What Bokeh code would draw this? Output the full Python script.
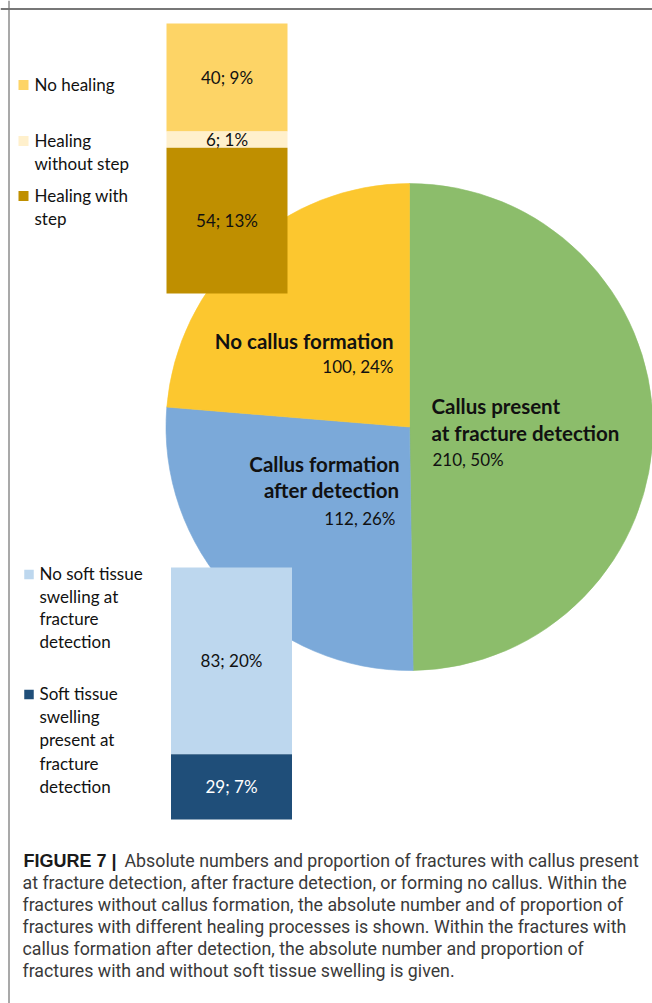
import numpy as np
from bokeh.plotting import figure
from bokeh.models import Range1d, Span, ColumnDataSource
from bokeh.core.properties import value
from bokeh.embed import file_html
from bokeh.resources import INLINE

# ---------------- data ----------------
main_cats = ["Callus present\nat fracture detection", "Callus formation\nafter detection", "No callus formation"]
main_counts = [210, 112, 100]
main_pcts = [50, 26, 24]
main_colors = ["#8CBD6B", "#7BA9D9", "#FCC72F"]

heal_cats = ["No healing", "Healing\nwithout step", "Healing with\nstep"]
heal_counts = [40, 6, 54]
heal_pcts = [9, 1, 13]
heal_colors = ["#FDD466", "#FFF0CC", "#BF8F00"]

swell_cats = ["No soft tissue\nswelling at\nfracture\ndetection",
              "Soft tissue\nswelling\npresent at\nfracture\ndetection"]
swell_counts = [83, 29]
swell_pcts = [20, 7]
swell_colors = ["#BDD7EE", "#1F4E79"]

caption_bold = "FIGURE 7 |"
caption_lines = [
    "Absolute numbers and proportion of fractures with callus present",
    "at fracture detection, after fracture detection, or forming no callus. Within the",
    "fractures without callus formation, the absolute number and of proportion of",
    "fractures with different healing processes is shown. Within the fractures with",
    "callus formation after detection, the absolute number and proportion of",
    "fractures with and without soft tissue swelling is given.",
]

# ---------------- layout helpers (picture px -> data) ----------------
W, H = 652, 1003
def px(x):
    return x
def py(y):
    return H - y

FONT = value("Lato")
CAP_FONT = value("Roboto")
NFS = "17px"

p = figure(width=W, height=H, output_backend="svg", toolbar_location=None,
           x_range=Range1d(0, W), y_range=Range1d(0, H), min_border=0,
           background_fill_color="white", border_fill_color="white")
p.xaxis.visible = False
p.yaxis.visible = False
p.grid.visible = False
p.outline_line_color = None

# frame (top and left edges visible)
p.add_layout(Span(location=py(8.5), dimension="width", line_color="#4a4a4a", line_width=1.6))
p.add_layout(Span(location=px(8.5), dimension="height", line_color="#707070", line_width=1.2))

# ---------------- pie ----------------
total = sum(main_counts)
cum = np.concatenate([[0], np.cumsum(main_counts)])
start_angles = [np.pi / 2 - 2 * np.pi * cum[i + 1] / total for i in range(len(main_counts))]
end_angles = [np.pi / 2 - 2 * np.pi * cum[i] / total for i in range(len(main_counts))]
cx, cy, r = px(409), py(426.5), 243.5
pie_src = ColumnDataSource(dict(start=start_angles, end=end_angles, color=main_colors))
p.wedge(x=cx, y=cy, radius=r, start_angle="start", end_angle="end", fill_color="color",
        line_color="color", line_width=0.6, source=pie_src)

# pie labels
pie_label_pos = [
    (431, 405, "left", 27, (432, 459)),
    (399, 463, "right", 26.5, (395, 518)),
    (393, 340, "right", 26, (393, 366)),
]
for cat, cnt, pct, (lx, ly, al, dl, (vx, vy)) in zip(main_cats, main_counts, main_pcts, pie_label_pos):
    lines = cat.split("\n")
    p.text(x=[px(lx)] * len(lines), y=[py(ly + i * dl) for i in range(len(lines))], text=lines,
           text_font=FONT, text_font_size="20.5px", text_font_style="bold", text_color="#111111",
           text_align=al, text_baseline="middle")
    p.text(x=[px(vx)], y=[py(vy)], text=[f"{cnt}, {pct}%"], text_font=FONT, text_font_size=NFS,
           text_color="#111111", text_align=al, text_baseline="middle")

# ---------------- healing stacked bar (top) ----------------
# counts 0 -> picture y 293, 100 -> picture y 23  (2.7 px per fracture)
s1 = 2.7
b1 = py(293)
p.extra_y_ranges["heal"] = Range1d(start=-b1 / s1, end=(H - b1) / s1)
h_order = list(range(len(heal_counts)))[::-1]  # bottom segment first
h_bottom, h_top = {}, {}
acc = 0
for i in h_order:
    h_bottom[i] = acc
    acc += heal_counts[i]
    h_top[i] = acc
heal_src = ColumnDataSource(dict(
    x=[px(226.5)] * len(heal_counts),
    bottom=[h_bottom[i] for i in range(len(heal_counts))],
    top=[h_top[i] for i in range(len(heal_counts))],
    color=heal_colors,
    mid=[(h_bottom[i] + h_top[i]) / 2 for i in range(len(heal_counts))],
    lab=[f"{c}; {q}%" for c, q in zip(heal_counts, heal_pcts)],
))
p.vbar(x="x", width=121, bottom="bottom", top="top", fill_color="color", line_color=None,
       source=heal_src, y_range_name="heal")
p.text(x="x", y="mid", text="lab", source=heal_src, y_range_name="heal", text_font=FONT,
       text_font_size=NFS, text_color="#111111", text_align="center", text_baseline="middle")

# legend for healing
heal_leg = [(84, 23), (140, 23), (195, 23)]
for cat, col, (ly, dl) in zip(heal_cats, heal_colors, heal_leg):
    lines = cat.split("\n")
    p.rect(x=[px(23)], y=[py(ly + 0.5)], width=10, height=10, fill_color=col, line_color=None)
    p.text(x=[px(34)] * len(lines), y=[py(ly + i * dl) for i in range(len(lines))], text=lines,
           text_font=FONT, text_font_size=NFS, text_color="#111111", text_align="left",
           text_baseline="middle")

# ---------------- swelling stacked bar (bottom) ----------------
# counts 0 -> picture y 819, 112 -> picture y 567 (2.25 px per fracture)
s2 = 2.25
b2 = py(819)
p.extra_y_ranges["swell"] = Range1d(start=-b2 / s2, end=(H - b2) / s2)
s_order = list(range(len(swell_counts)))[::-1]
s_bottom, s_top = {}, {}
acc = 0
for i in s_order:
    s_bottom[i] = acc
    acc += swell_counts[i]
    s_top[i] = acc
swell_src = ColumnDataSource(dict(
    x=[px(231)] * len(swell_counts),
    bottom=[s_bottom[i] for i in range(len(swell_counts))],
    top=[s_top[i] for i in range(len(swell_counts))],
    color=swell_colors,
    mid=[(s_bottom[i] + s_top[i]) / 2 for i in range(len(swell_counts))],
    lab=[f"{c}; {q}%" for c, q in zip(swell_counts, swell_pcts)],
    tcol=["#111111", "#FFFFFF"],
))
p.vbar(x="x", width=121, bottom="bottom", top="top", fill_color="color", line_color=None,
       source=swell_src, y_range_name="swell")
p.text(x="x", y="mid", text="lab", source=swell_src, y_range_name="swell", text_font=FONT,
       text_font_size=NFS, text_color="tcol", text_align="center", text_baseline="middle")

swell_leg = [(573, 22.5), (693, 23.2)]
for cat, col, (ly, dl) in zip(swell_cats, swell_colors, swell_leg):
    lines = cat.split("\n")
    p.rect(x=[px(28.5)], y=[py(ly + 1)], width=9.5, height=9.5, fill_color=col, line_color=None)
    p.text(x=[px(39)] * len(lines), y=[py(ly + i * dl) for i in range(len(lines))], text=lines,
           text_font=FONT, text_font_size=NFS, text_color="#111111", text_align="left",
           text_baseline="middle")

# ---------------- caption ----------------
cap_y = [860, 882, 904, 926, 948, 970]
p.text(x=[px(23)], y=[py(cap_y[0])], text=[caption_bold], text_font=value("Liberation Sans"),
       text_font_size="18px", text_font_style="bold", text_color="#1a1a1a", text_align="left",
       text_baseline="middle")
cap_x = [124] + [22] * (len(caption_lines) - 1)
p.text(x=[px(v) for v in cap_x], y=[py(v) for v in cap_y], text=caption_lines, text_font=CAP_FONT,
       text_font_size="17.8px", text_color="#3a3a3a", text_align="left", text_baseline="middle")

open("out.html", "w").write(file_html(p, INLINE))
